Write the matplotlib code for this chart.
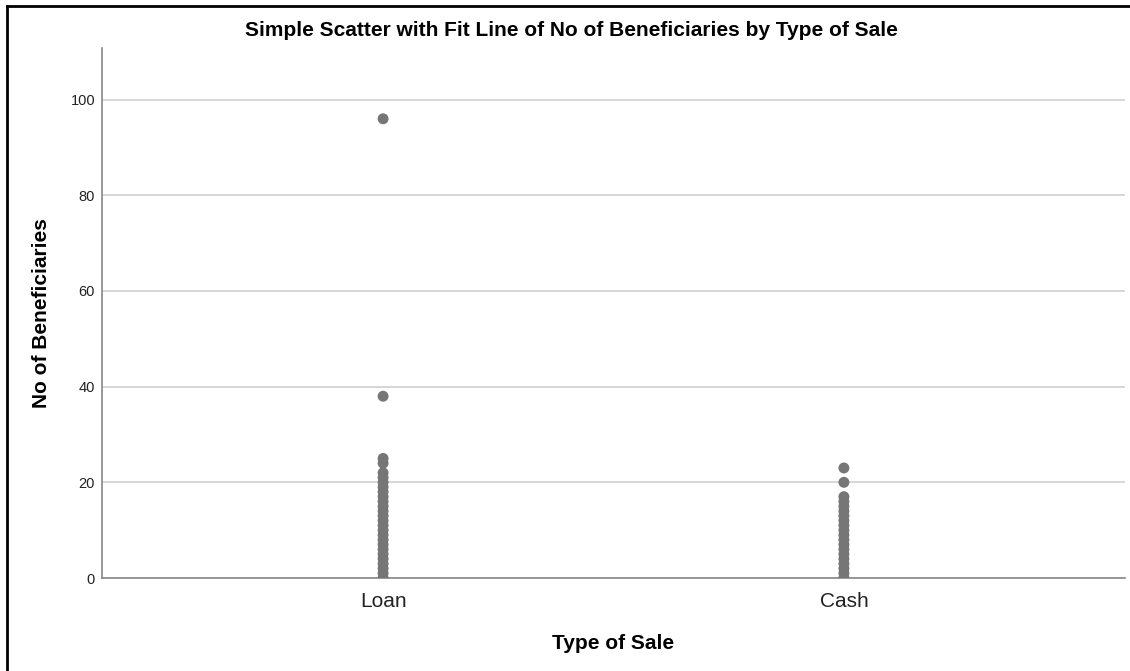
import matplotlib
matplotlib.use("Agg")
import matplotlib.pyplot as plt
from matplotlib.lines import Line2D

plt.rcParams['font.family'] = ['Liberation Sans', 'DejaVu Sans']

# Type of sale categories and the distinct beneficiary counts seen in each
categories = ["Loan", "Cash"]
loan_values = list(range(0, 23)) + [24, 25, 38, 96]
cash_values = list(range(0, 18)) + [20, 23]
y_ticks = [0, 20, 40, 60, 80, 100]

W, H, DPI = 1130, 671, 100
fig = plt.figure(figsize=(W / DPI, H / DPI), dpi=DPI)
ax_left, ax_right, ax_top, ax_bottom = 102, 1125, 47.5, 578
ax = fig.add_axes([ax_left / W, 1 - ax_bottom / H,
                   (ax_right - ax_left) / W, (ax_bottom - ax_top) / H])

point_color = "#767676"
for i, vals in enumerate([loan_values, cash_values]):
    ax.scatter([i] * len(vals), vals, s=62, color=point_color,
               edgecolors="none", zorder=3)

ax.set_xlim(-0.61, 1.61)
ax.set_ylim(0, 110.9)
ax.set_xticks([0, 1])
ax.set_xticklabels(categories, fontsize=15, color="#222222")
ax.set_yticks(y_ticks)
ax.set_yticklabels([str(t) for t in y_ticks], fontsize=10.5, color="#222222")
ax.tick_params(axis="both", length=0)
ax.tick_params(axis="x", pad=10)
ax.tick_params(axis="y", pad=5)

ax.yaxis.grid(True, color="#cfcfcf", linewidth=1.2)
ax.set_axisbelow(True)
for side in ["top", "right"]:
    ax.spines[side].set_visible(False)
for side in ["left", "bottom"]:
    ax.spines[side].set_color("#888888")
    ax.spines[side].set_linewidth(1.2)

ax_w = ax_right - ax_left
ax_h = ax_bottom - ax_top
ax.set_ylabel("No of Beneficiaries", fontsize=15, fontweight="bold")
ax.yaxis.set_label_coords((51 - ax_left) / ax_w, 0.5)
ax.set_xlabel("Type of Sale", fontsize=15, fontweight="bold")
ax.xaxis.set_label_coords(0.5, -(634 - ax_bottom) / ax_h)

fig.text(0.506, 1 - 31 / H,
         "Simple Scatter with Fit Line of No of Beneficiaries by Type of Sale",
         ha="center", va="center", fontsize=15, fontweight="bold")

# Frame lines along the top and left edges of the figure
fig.add_artist(Line2D([7 / W, 1], [1 - 6 / H, 1 - 6 / H], transform=fig.transFigure,
                      color="black", linewidth=2))
fig.add_artist(Line2D([7 / W, 7 / W], [0, 1 - 6 / H], transform=fig.transFigure,
                      color="black", linewidth=2))

fig.savefig("out.png", dpi=DPI, facecolor="white")
